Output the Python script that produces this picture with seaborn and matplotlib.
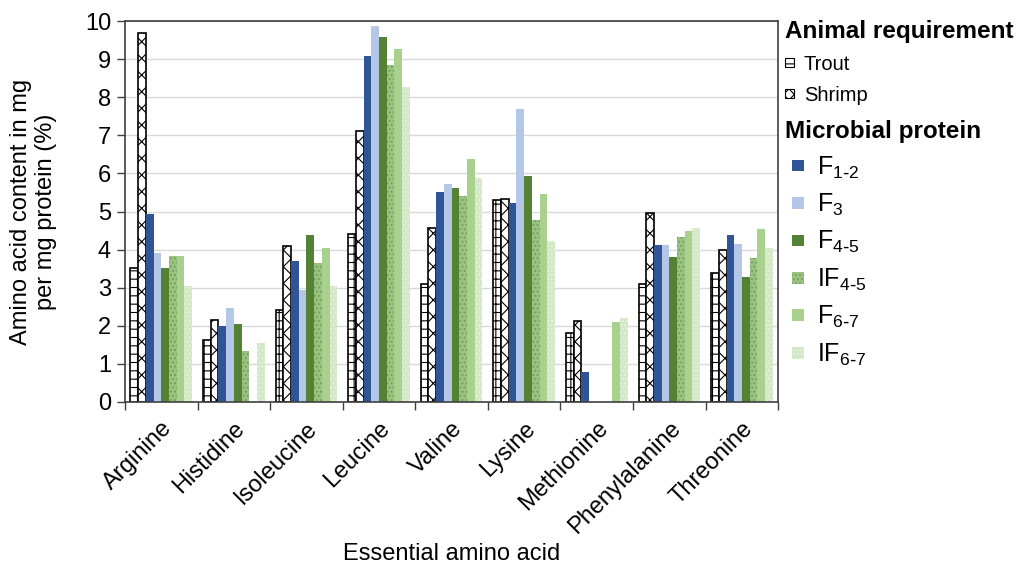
import numpy as np
import pandas as pd
import seaborn as sns
import matplotlib.pyplot as plt
import matplotlib.patches as mpatches
from matplotlib.legend_handler import HandlerPatch

amino_acids = ["Arginine", "Histidine", "Isoleucine", "Leucine", "Valine",
               "Lysine", "Methionine", "Phenylalanine", "Threonine"]
series_names = ["Trout", "Shrimp", "F1-2", "F3", "F4-5", "IF4-5", "F6-7", "IF6-7"]

trout = [3.51, 1.63, 2.41, 4.40, 3.09, 5.29, 1.80, 3.09, 3.39]
shrimp = [9.68, 2.15, 4.10, 7.11, 4.56, 5.34, 2.13, 4.97, 3.99]
f12 = [4.93, 1.99, 3.69, 9.09, 5.50, 5.22, 0.78, 4.12, 4.38]
f3 = [3.90, 2.46, 2.94, 9.87, 5.71, 7.69, 0.0, 4.12, 4.15]
f45 = [3.51, 2.05, 4.38, 9.59, 5.63, 5.92, 0.0, 3.80, 3.28]
if45 = [3.83, 1.35, 3.64, 8.85, 5.41, 4.78, 0.0, 4.32, 3.77]
f67 = [3.83, 0.0, 4.05, 9.26, 6.39, 5.46, 2.11, 4.50, 4.54]
if67 = [3.05, 1.54, 3.05, 8.28, 5.89, 4.22, 2.21, 4.56, 4.03]

legend_labels = [r"F$_{1\text{-}2}$", r"F$_{3}$", r"F$_{4\text{-}5}$",
                 r"IF$_{4\text{-}5}$", r"F$_{6\text{-}7}$", r"IF$_{6\text{-}7}$"]

colors = ["white", "white", "#2F5597", "#B4C7E7", "#548235", "#9CC283", "#A9D18E", "#D3E8C6"]
hatches = ["++", "xx", None, None, None, "....", None, "...."]
edges = ["black", "black", "none", "none", "none", "#6F9E52", "none", "#E8F3E0"]

values = [trout, shrimp, f12, f3, f45, if45, f67, if67]
rows = []
for name, vals in zip(series_names, values):
    for aa, v in zip(amino_acids, vals):
        rows.append({"Amino acid": aa, "Series": name, "Value": v})
df = pd.DataFrame(rows)

sns.set_theme(style="white")
plt.rcParams["font.family"] = ["Liberation Sans", "DejaVu Sans"]
plt.rcParams["mathtext.default"] = "regular"
plt.rcParams["hatch.linewidth"] = 0.8
plt.rcParams["text.color"] = "black"
plt.rcParams["axes.labelcolor"] = "black"
plt.rcParams["xtick.color"] = "black"
plt.rcParams["ytick.color"] = "black"

fig = plt.figure(figsize=(10.24, 5.69), dpi=100)
ax = fig.add_axes([0.122, 0.2935, 0.638, 0.6695])

sns.barplot(data=df, x="Amino acid", y="Value", hue="Series",
            hue_order=series_names, order=amino_acids,
            palette=colors, width=0.85, saturation=1, legend=False, ax=ax)

for cont, h, ec in zip(ax.containers, hatches, edges):
    for bar in cont:
        if h:
            bar.set_hatch(h)
        if ec == "black":
            bar.set_edgecolor("black")
            bar.set_linewidth(1.2)
        elif ec != "none":
            bar.set_edgecolor(ec)
            bar.set_linewidth(0)
        else:
            bar.set_linewidth(0)

ax.set_ylim(0, 10)
ax.set_xlim(-0.5, len(amino_acids) - 0.5)
ax.set_yticks(range(0, 11))
ax.yaxis.grid(True, color="#D9D9D9", linewidth=1)
ax.set_axisbelow(True)
for s in ax.spines.values():
    s.set_color("#404040")
    s.set_linewidth(1.2)

ax.tick_params(axis="y", which="major", direction="out", length=6, width=1,
               color="#404040", labelsize=17, left=True, pad=4)
ax.set_xticks(np.arange(len(amino_acids)))
ax.set_xticklabels(amino_acids, rotation=45, ha="right", rotation_mode="anchor", fontsize=17)
ax.set_xticks(np.arange(len(amino_acids) + 1) - 0.5, minor=True)
ax.tick_params(axis="x", which="major", length=0, pad=11)
ax.tick_params(axis="x", which="minor", direction="out", length=6, width=1,
               color="#404040", bottom=True)

ax.set_xlabel("Essential amino acid", fontsize=17, labelpad=4)
ax.set_ylabel("Amino acid content in mg\nper mg protein (%)", fontsize=17, labelpad=20)


class SquareHandler(HandlerPatch):
    def __init__(self, size, xoff):
        self.size = size
        self.xoff = xoff
        super().__init__()

    def create_artists(self, legend, orig_handle, xdescent, ydescent,
                       width, height, fontsize, trans):
        s = self.size
        p = mpatches.Rectangle((self.xoff - xdescent, -ydescent + (height - s) / 2), s, s)
        self.update_prop(p, orig_handle, legend)
        p.set_transform(trans)
        return [p]


h1 = [mpatches.Patch(facecolor="white", edgecolor="black", hatch="---", linewidth=0.8),
      mpatches.Patch(facecolor="white", edgecolor="black", hatch="xxx", linewidth=0.8)]
leg1 = ax.legend(h1, ["Trout", "Shrimp"], title="Animal requirement",
                 loc="upper left", bbox_to_anchor=(1.01, 1.003), frameon=False,
                 alignment="left", fontsize=14.5, handlelength=0.5, handleheight=0.5,
                 handletextpad=0.45, labelspacing=0.6, borderaxespad=0, borderpad=0,
                 title_fontproperties={"weight": "bold", "size": 17.5},
                 handler_map={mpatches.Patch: SquareHandler(6.5, 0)})
ax.add_artist(leg1)

h2 = []
for c, h, ec in zip(colors[2:], hatches[2:], edges[2:]):
    h2.append(mpatches.Patch(facecolor=c, edgecolor=ec if ec != "none" else c,
                             hatch=h, linewidth=0))
leg2 = ax.legend(h2, legend_labels, title="Microbial protein",
                 loc="upper left", bbox_to_anchor=(1.01, 0.74), frameon=False,
                 alignment="left", fontsize=18, handlelength=1.0, handleheight=0.6,
                 handletextpad=0.3, labelspacing=0.45, borderaxespad=0, borderpad=0,
                 title_fontproperties={"weight": "bold", "size": 17.5},
                 handler_map={mpatches.Patch: SquareHandler(8.5, 5)})

fig.savefig("out.png", dpi=100)
